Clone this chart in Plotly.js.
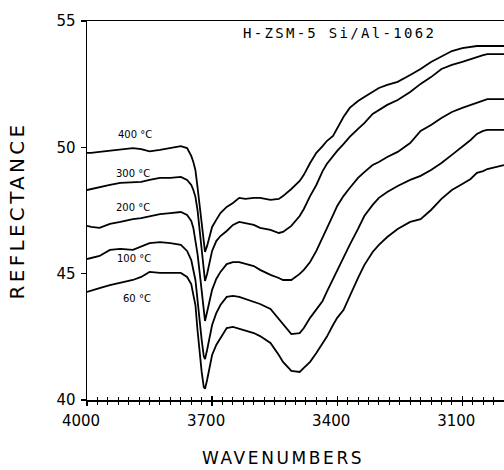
<!DOCTYPE html>
<html>
<head>
<meta charset="utf-8">
<script src="https://cdn.plot.ly/plotly-3.0.1.min.js"></script>
<style>html,body{margin:0;padding:0;background:#fff;}#chart{width:504px;height:470px;}</style>
</head>
<body>
<div id="chart"></div>
<script>
// Wavenumbers (cm-1)
var wavenumbers = [4000,3990,3970,3945,3920,3890,3870,3850,3825,3800,
  3775,3760,3750,3745,3740,3735,3730,3725,3720,3717,
  3712,3705,3700,3690,3680,3665,3650,3635,3620,3600,
  3585,3560,3540,3530,3510,3490,3480,3465,3450,3435,
  3425,3410,3400,3385,3370,3350,3335,3315,3300,3280,
  3255,3225,3200,3175,3150,3125,3100,3080,3065,3050,
  3040,3030,3015,3000];

var r400 = [49.78,49.78,49.82,49.86,49.91,49.97,49.93,49.84,49.90,49.97,
  50.05,49.97,49.66,49.42,49.10,48.43,47.72,47.05,46.33,45.86,
  46.10,46.53,46.85,47.13,47.40,47.64,47.80,48.00,47.96,48.00,
  48.00,47.92,47.96,48.07,48.35,48.67,48.91,49.38,49.78,50.05,
  50.25,50.45,50.73,51.20,51.56,51.83,51.99,52.19,52.35,52.47,
  52.59,52.86,53.10,53.38,53.61,53.81,53.93,53.97,54.01,54.01,
  54.01,54.01,54.01,54.01];

var r300 = [48.31,48.35,48.43,48.51,48.59,48.61,48.63,48.71,48.79,48.79,
  48.83,48.71,48.51,48.31,48.04,47.52,46.73,46.02,45.23,44.71,
  44.99,45.46,45.90,46.29,46.49,46.69,46.93,47.05,47.01,46.93,
  46.81,46.73,46.61,46.65,46.89,47.28,47.56,48.07,48.51,49.06,
  49.34,49.66,49.86,50.13,50.41,50.73,50.96,51.32,51.48,51.68,
  51.87,52.19,52.51,52.78,53.10,53.26,53.38,53.50,53.58,53.65,
  53.69,53.69,53.69,53.69];

var r200 = [46.89,46.85,46.81,46.97,47.05,47.16,47.20,47.28,47.36,47.40,
  47.44,47.32,47.09,46.81,46.33,45.78,45.07,44.36,43.56,43.13,
  43.48,44.04,44.36,44.79,45.07,45.38,45.46,45.46,45.38,45.30,
  45.15,44.95,44.83,44.75,44.75,44.99,45.15,45.46,45.90,46.41,
  46.81,47.32,47.68,48.07,48.39,48.79,49.02,49.30,49.42,49.62,
  49.82,50.17,50.65,50.88,51.16,51.40,51.56,51.68,51.79,51.87,
  51.91,51.91,51.91,51.91];

var r100 = [45.58,45.62,45.70,45.94,45.98,45.94,46.06,46.21,46.25,46.21,
  46.14,45.90,45.54,45.15,44.75,43.96,43.09,42.38,41.74,41.62,
  41.98,42.53,42.97,43.44,43.76,44.08,44.12,44.08,44.00,43.88,
  43.80,43.60,43.21,42.97,42.61,42.65,42.85,43.25,43.60,43.92,
  44.28,44.79,45.15,45.66,46.14,46.77,47.28,47.72,48.00,48.23,
  48.47,48.71,48.87,49.10,49.38,49.70,50.01,50.29,50.53,50.65,
  50.69,50.69,50.69,50.69];

var r60 = [44.28,44.32,44.43,44.55,44.63,44.75,44.87,45.07,45.03,45.03,
  45.03,44.87,44.59,44.16,43.76,42.77,41.90,41.11,40.52,40.44,
  40.79,41.39,41.78,42.18,42.45,42.85,42.89,42.81,42.73,42.65,
  42.53,42.26,41.78,41.51,41.15,41.11,41.27,41.51,41.86,42.22,
  42.50,42.97,43.25,43.56,44.12,44.83,45.34,45.86,46.14,46.45,
  46.77,47.05,47.16,47.52,47.96,48.31,48.55,48.75,48.99,49.06,
  49.14,49.18,49.26,49.30];

var seriesNames = ['400 °C','300 °C','200 °C','100 °C','60 °C'];
var seriesValues = [r400, r300, r200, r100, r60];
// label anchor positions (wavenumber, reflectance) for the temperature labels
var labelX = [3885, 3890, 3890, 3887, 3880];
var labelY = [50.49, 48.98, 47.60, 45.62, 44.00];

var xTickVals = [4000, 3700, 3400, 3100];
var yTickVals = [40, 45, 50, 55];
var chartTitle = 'H-ZSM-5 Si/Al-1062';
var xTitle = 'WAVENUMBERS';
var yTitle = 'REFLECTANCE';

var traces = seriesValues.map(function(v, i){
  return {x: wavenumbers, y: v, type: 'scatter', mode: 'lines', name: seriesNames[i],
    line: {color: '#000', width: 1.8}, hoverinfo: 'skip'};
});
// invisible trace on overlay axis for crossing ticks
traces.push({x: [4000, 3000], y: [40, 40], xaxis: 'x2', yaxis: 'y', mode: 'lines',
  line: {width: 0, color: 'rgba(0,0,0,0)'}, hoverinfo: 'skip', showlegend: false});

var fnt = 'DejaVu Sans, sans-serif';
var annotations = seriesNames.map(function(n, i){
  return {x: labelX[i], y: labelY[i], xref: 'x', yref: 'y', text: n, showarrow: false,
    font: {family: fnt, size: 10, color: '#000'}, xanchor: 'center', yanchor: 'middle'};
});
annotations.push({xref: 'paper', yref: 'paper', x: 0.369, y: 0.968, xanchor: 'left', yanchor: 'middle',
  text: '<span style="letter-spacing:2.3px">' + chartTitle + '</span>', showarrow: false,
  font: {family: 'DejaVu Sans Mono, monospace', size: 14, color: '#000'}});
annotations.push({xref: 'paper', yref: 'paper', x: 0.47, y: -0.152, xanchor: 'center', yanchor: 'middle',
  text: '<span style="letter-spacing:2.6px">' + xTitle + '</span>', showarrow: false,
  font: {family: fnt, size: 17, color: '#000'}});
annotations.push({xref: 'paper', yref: 'paper', x: -0.168, y: 0.5, xanchor: 'center', yanchor: 'middle',
  textangle: -90, text: '<span style="letter-spacing:3.3px">' + yTitle + '</span>', showarrow: false,
  font: {family: fnt, size: 20, color: '#000'}});

var layout = {
  width: 504, height: 470,
  margin: {l: 87, r: 0, t: 21, b: 70, pad: 0},
  paper_bgcolor: '#fff', plot_bgcolor: '#fff',
  showlegend: false,
  xaxis: {range: [4000, 3000], tickmode: 'array', tickvals: xTickVals, ticktext: xTickVals.map(String),
    ticks: 'outside', ticklen: 4, tickwidth: 1.3, tickcolor: '#000',
    minor: {tickmode: 'linear', tick0: 4000, dtick: 25, ticks: 'outside', ticklen: 3, tickwidth: 1, tickcolor: '#000'},
    showline: true, linecolor: '#000', linewidth: 1.5, mirror: true, showgrid: false, zeroline: false,
    ticklabelshift: 6, ticklabelstandoff: 2,
    tickfont: {family: fnt, size: 15, color: '#000'}},
  xaxis2: {range: [4000, 3000], overlaying: 'x', anchor: 'y', side: 'bottom',
    tickmode: 'linear', tick0: 4000, dtick: 300, ticks: 'inside', ticklen: 4, tickwidth: 1.3, tickcolor: '#000',
    minor: {tickmode: 'linear', tick0: 4000, dtick: 25, ticks: 'inside', ticklen: 3, tickwidth: 1, tickcolor: '#000'},
    showticklabels: false, showline: false, showgrid: false, zeroline: false},
  yaxis: {range: [40, 55], tickmode: 'array', tickvals: yTickVals, ticktext: yTickVals.map(String),
    ticks: 'outside', ticklen: 5, tickwidth: 1.3, tickcolor: '#000',
    showline: true, linecolor: '#000', linewidth: 1.5, showgrid: false, zeroline: false,
    ticklabelstandoff: 2,
    tickfont: {family: fnt, size: 15, color: '#000'}},
  annotations: annotations
};

Plotly.newPlot('chart', traces, layout, {displayModeBar: false, staticPlot: true});
</script>
</body>
</html>
